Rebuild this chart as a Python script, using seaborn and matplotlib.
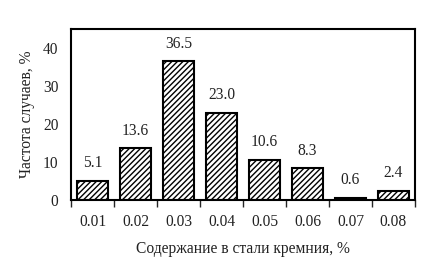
import matplotlib
matplotlib.use("Agg")
import matplotlib.pyplot as plt
import seaborn as sns
import pandas as pd
from matplotlib.ticker import FixedLocator

categories = ["0.01", "0.02", "0.03", "0.04", "0.05", "0.06", "0.07", "0.08"]
values = [5.1, 13.6, 36.5, 23.0, 10.6, 8.3, 0.6, 2.4]
labels = ["5.1", "13.6", "36.5", "23.0", "10.6", "8.3", "0.6", "2.4"]

sns.set_theme(style="white")
plt.rcParams["font.family"] = ["Liberation Serif", "DejaVu Serif"]
plt.rcParams["hatch.linewidth"] = 1.0

df = pd.DataFrame({"cat": categories, "val": values})

fig = plt.figure(figsize=(4.30, 2.78), dpi=100)
ax = fig.add_axes([71/430, 1 - 200/278, 344/430, 171/278])

sns.barplot(data=df, x="cat", y="val", ax=ax, color="white", width=0.7,
            edgecolor="black", linewidth=1.5, saturation=1)
for p in ax.patches:
    p.set_hatch("//////")
    p.set_facecolor("white")

fs = 11.2
for i, (v, t) in enumerate(zip(values, labels)):
    ax.text(i, v + 4.6, t, ha="center", va="center", fontsize=fs, color="#222222")

ax.set_ylim(0, 45)
ax.set_xlim(-0.5, len(categories) - 0.5)
ax.set_yticks([0, 10, 20, 30, 40])
ax.tick_params(axis="y", direction="out", length=5, width=1, labelsize=fs, colors="black", pad=4)
ax.tick_params(axis="x", which="major", length=0, labelsize=fs, pad=10)
ax.xaxis.set_minor_locator(FixedLocator([i - 0.5 for i in range(len(categories) + 1)]))
ax.tick_params(axis="x", which="minor", direction="out", length=5, width=1, bottom=True)
for lbl in ax.get_xticklabels() + ax.get_yticklabels():
    lbl.set_color("#222222")

for s in ax.spines.values():
    s.set_visible(True)
    s.set_color("black")
    s.set_linewidth(1.5)

ax.set_xlabel("Содержание в стали кремния, %", fontsize=fs, labelpad=8, color="#222222")
ax.set_ylabel("Частота случаев, %", fontsize=fs, labelpad=6, color="#222222")

fig.savefig("out.png", dpi=100)
